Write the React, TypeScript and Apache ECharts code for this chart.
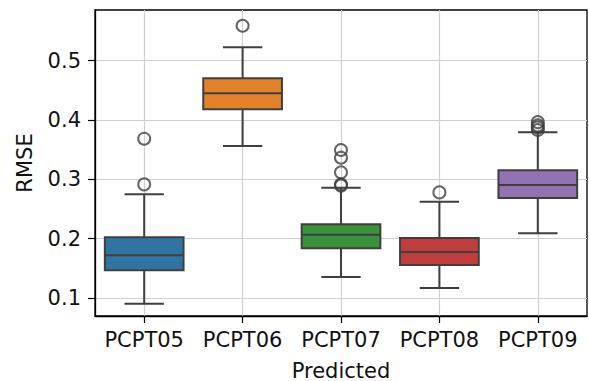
import React, { useEffect, useRef } from "react";
import * as echarts from "echarts";

const categories = ["PCPT05", "PCPT06", "PCPT07", "PCPT08", "PCPT09"];
// [lowerWhisker, Q1, median, Q3, upperWhisker]
const boxStats = [
  [0.0904, 0.147, 0.172, 0.2023, 0.2748],
  [0.3562, 0.418, 0.445, 0.4703, 0.5225],
  [0.1354, 0.1837, 0.2067, 0.2242, 0.2859],
  [0.1169, 0.1556, 0.1775, 0.2011, 0.2623],
  [0.209, 0.2686, 0.2905, 0.3152, 0.3793],
];
// [category index, value]
const outliers = [
  [0, 0.2916], [0, 0.3685],
  [1, 0.5589],
  [2, 0.2895], [2, 0.2916], [2, 0.3118], [2, 0.3365], [2, 0.3494],
  [3, 0.278],
  [4, 0.3832], [4, 0.3875], [4, 0.391], [4, 0.3965],
];
const boxColors = ["#3274a1", "#e1812c", "#3a923a", "#c03d3e", "#9372b2"];
const yTicks = [0.1, 0.2, 0.3, 0.4, 0.5];
const yMin = 0.0697;
const yMax = 0.5854;

const FONT = "DejaVu Sans";
const EDGE = "#3f3f3f";
const FS = 21;
const LW = 2;

export default function App() {
  const ref = useRef<HTMLDivElement>(null);
  useEffect(() => {
    if (!ref.current) return;
    document.body.style.margin = "0";
    const chart = echarts.init(ref.current, null, { renderer: "svg" });
    const renderItem = (params: any, api: any) => {
      const idx = api.value(0);
      const low = api.coord([idx, api.value(1)]);
      const q1 = api.coord([idx, api.value(2)]);
      const med = api.coord([idx, api.value(3)]);
      const q3 = api.coord([idx, api.value(4)]);
      const high = api.coord([idx, api.value(5)]);
      const band = api.size([1, 0])[0];
      const boxW = band * 0.8;
      const capW = band * 0.4;
      const cx = q1[0];
      const ls = { stroke: EDGE, lineWidth: LW };
      return {
        type: "group",
        children: [
          { type: "line", shape: { x1: cx, y1: q1[1], x2: cx, y2: low[1] }, style: ls },
          { type: "line", shape: { x1: cx, y1: q3[1], x2: cx, y2: high[1] }, style: ls },
          { type: "line", shape: { x1: cx - capW / 2, y1: low[1], x2: cx + capW / 2, y2: low[1] }, style: ls },
          { type: "line", shape: { x1: cx - capW / 2, y1: high[1], x2: cx + capW / 2, y2: high[1] }, style: ls },
          {
            type: "rect",
            shape: { x: cx - boxW / 2, y: q3[1], width: boxW, height: q1[1] - q3[1] },
            style: { fill: boxColors[params.dataIndex], stroke: EDGE, lineWidth: LW },
          },
          { type: "line", shape: { x1: cx - boxW / 2, y1: med[1], x2: cx + boxW / 2, y2: med[1] }, style: ls },
        ],
      };
    };
    chart.setOption({
      animation: false,
      backgroundColor: "#fff",
      textStyle: { fontFamily: FONT },
      grid: {
        left: 95,
        right: 2,
        top: 10,
        bottom: 65,
        outerBoundsMode: "none",
        containLabel: false,
        show: true,
        borderColor: "#000",
        borderWidth: 1.3,
        backgroundColor: "transparent",
      },
      xAxis: {
        type: "category",
        data: categories,
        boundaryGap: true,
        name: "Predicted",
        nameLocation: "middle",
        nameGap: 44,
        nameTextStyle: { fontSize: FS, color: "#111", fontFamily: FONT },
        axisLine: { show: true, lineStyle: { color: "#000", width: 1.3 } },
        axisTick: { show: true, alignWithLabel: true, length: 7, lineStyle: { color: "#000", width: 1.2 } },
        axisLabel: { fontSize: FS, color: "#111", margin: 13, fontFamily: FONT, interval: 0 },
        splitLine: { show: true, alignWithLabel: true, lineStyle: { color: "#d0d0d0", width: 1.2 } },
      },
      yAxis: {
        type: "value",
        min: yMin,
        max: yMax,
        name: "RMSE",
        nameLocation: "middle",
        nameGap: 60,
        nameTextStyle: { fontSize: FS, color: "#111", fontFamily: FONT },
        axisLine: { show: true, lineStyle: { color: "#000", width: 1.3 } },
        axisTick: { show: true, length: 7, customValues: yTicks, lineStyle: { color: "#000", width: 1.2 } },
        axisLabel: {
          fontSize: FS,
          color: "#111",
          margin: 14,
          fontFamily: FONT,
          customValues: yTicks,
          formatter: (v: number) => v.toFixed(1),
        },
        splitLine: { show: true, lineStyle: { color: "#d0d0d0", width: 1.2 } },
      },
      series: [
        {
          type: "custom",
          renderItem,
          z: 3,
          data: boxStats.map((s, i) => [i, ...s]),
          encode: { x: 0, y: [1, 2, 3, 4, 5] },
        },
        {
          type: "scatter",
          z: 4,
          symbol: "circle",
          symbolSize: 12,
          itemStyle: { color: "transparent", borderColor: EDGE, borderWidth: LW },
          data: outliers,
        },
      ],
    });
    return () => chart.dispose();
  }, []);
  return <div ref={ref} style={{ width: 589, height: 381 }} />;
}
